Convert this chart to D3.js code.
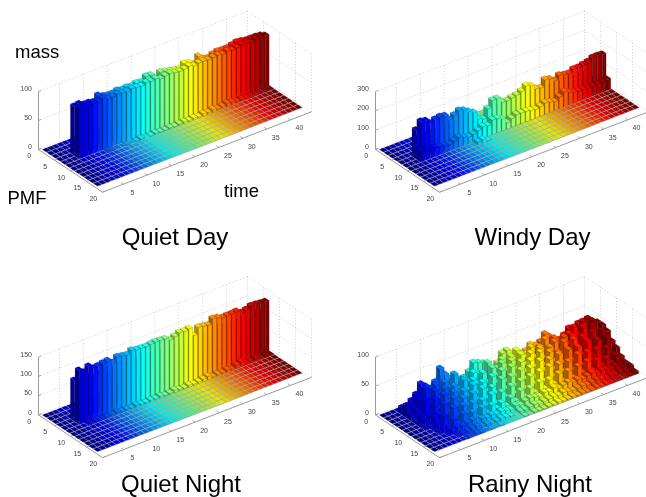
<!DOCTYPE html>
<html><head><meta charset="utf-8">
<script src="https://cdn.jsdelivr.net/npm/d3@7"></script>
<style>html,body{margin:0;padding:0;background:#fff;overflow:hidden}svg{display:block;filter:blur(.35px)}</style>
</head><body><svg id="c" width="646" height="497"></svg>
<script>
const timeTicks=[5,10,15,20,25,30,35,40];
const pmfTicks=[0,5,10,15,20];
const colCount=43, rowCount=12, firstCol=3;

const quietDayBack=[85,86,82,82,80,88,84,82,82,84,82,83,82,84,83,89,88,79,87,85,83,81,80,86,84,79,89,82,80,83,85,84,84,86,88,87,85,85,85,84];
const quietDayFront=[88,87,86,85,86,88,84,85,86,85,84,86,85,84,87,86,87,84,86,87,85,84,85,87,84,86,86,85,86,87,85,88,86,87,89,88,86,89,88,89];
const quietDayLow=[0,0,0,0,0,1,1,0,0,1,0,1,2,0,1,2,1,1,2,1,2,3,2,3,2,4,3,5,3,4,6,5,3,4,3,2,2,1,2,1];

const windyBack=[148,184,178,156,165,170,166,136,150,165,157,140,126,82,72,117,150,150,122,120,126,130,140,159,150,125,120,153,147,130,148,140,138,150,150,155,160,172,172,170];
const windyFront=[56,57,52,45,40,36,33,42,51,42,34,38,48,59,54,75,72,60,32,44,55,54,53,48,43,50,58,52,46,60,77,65,55,52,50,49,50,52,54,56];
const windyLow=[0,0,0,0,0,0,0,0,0,0,0,15,18,4,0,0,0,0,0,0,0,0,0,0,0,0,0,0,0,0,0,0,0,0,0,0,0,0,0,0];

const quietNightBack=[105,92,96,100,94,98,102,90,96,100,94,98,102,96,100,92,98,100,94,96,98,100,88,94,92,96,100,96,92,98,100,96,92,98,94,96,92,98,96,94];
const quietNightFront=[139,130,140,131,132,134,136,126,136,134,132,139,136,135,134,136,137,136,135,128,132,137,136,138,116,132,130,128,140,138,133,134,134,135,127,130,135,134,133,132];
const quietNightLow=[0,2,3,2,4,3,2,7,3,4,2,5,3,2,4,3,5,2,3,6,3,2,5,3,4,6,8,3,5,4,6,3,9,12,5,4,8,3,6,2];

const rainyRow1=[12,8,18,22,30,20,24,30,36,26,28,20,22,16,30,34,22,18,12,10,26,32,20,22,24,18,28,24,20,34,28,22,24,20,30,30,34,30,36,30];
const rainyRow2=[21,20,34,49,42,35,43,63,50,40,37,32,29,22,51,48,44,32,24,20,48,50,40,39,35,31,44,40,33,53,45,34,34,34,47,40,49,42,51,43];
const rainyRow3=[10,16,30,44,30,46,28,44,32,52,24,40,30,42,38,30,50,26,34,46,30,44,52,32,34,48,26,42,52,30,48,36,30,46,54,38,58,34,52,47];
const rainyRow4=[6,12,34,26,44,28,42,22,40,26,44,24,38,28,44,24,46,30,48,32,46,28,50,30,46,36,48,28,44,50,30,52,36,46,30,56,32,52,36,47];
const rainyRow5=[4,8,14,38,20,40,24,38,20,34,22,38,20,36,18,40,26,44,22,44,24,46,26,42,28,50,24,44,26,36,52,26,50,28,48,30,50,28,46,42];
const rainyRow6=[2,5,16,18,32,16,36,20,30,14,32,18,34,14,30,16,38,18,36,16,40,22,38,18,44,24,40,20,42,24,44,22,42,26,46,20,42,24,40,30];
const rainyRow7=[0,3,6,20,10,28,12,26,10,24,12,22,10,26,8,24,12,28,12,30,14,32,16,34,14,36,16,34,18,32,14,38,16,36,18,34,16,30,18,24];
const rainyRow8=[0,2,8,4,16,6,20,6,16,4,18,6,16,8,14,6,16,8,22,8,20,10,24,10,22,12,26,10,24,10,26,12,28,10,24,12,20,10,20,14];
const rainyRow9=[0,0,3,6,8,8,10,12,6,8,6,8,6,8,6,4,8,6,10,12,10,8,12,10,14,10,12,14,10,12,10,12,14,10,12,10,8,10,10,9];
const rainyRow10=[0,0,0,3,4,5,6,6,3,4,2,3,4,3,2,0,4,3,5,6,4,5,6,7,6,8,6,5,6,7,5,6,7,6,5,6,4,5,6,9];
const rainyRow11=[0,0,0,0,1,2,3,2,0,1,0,1,0,0,0,0,1,0,2,1,1,2,2,3,2,2,3,2,3,2,2,3,2,3,2,2,1,2,3,4];

const panels=[
 {title:"Quiet Day",tx:175,ty:245,ox:38.5,oy:149.5,zMax:100,zTicks:[0,50,100],rows:{3:quietDayBack,4:quietDayFront,5:quietDayLow}},
 {title:"Windy Day",tx:532.5,ty:245,ox:375.5,oy:149.5,zMax:300,zTicks:[0,100,200,300],rows:{4:windyBack,5:windyFront,6:windyLow}},
 {title:"Quiet Night",tx:181,ty:491.5,ox:38.5,oy:415,zMax:150,zTicks:[0,50,100,150],rows:{3:quietNightBack,4:quietNightFront,5:quietNightLow}},
 {title:"Rainy Night",tx:530,ty:491.5,ox:375.5,oy:415,zMax:100,zTicks:[0,50,100],rows:{1:rainyRow1,2:rainyRow2,3:rainyRow3,4:rainyRow4,5:rainyRow5,6:rainyRow6,7:rainyRow7,8:rainyRow8,9:rainyRow9,10:rainyRow10,11:rainyRow11}}
];
const sideLabels=[["mass",15,58],["PMF",7.5,204],["time",224,197]];

const tLo=0.6,tHi=44.4;
const tX=d3.scaleLinear([tLo,tHi],[0,209]), tY=d3.scaleLinear([tLo,tHi],[0,-80.4]);
const pX=d3.scaleLinear([0,20],[0,64]), pY=d3.scaleLinear([0,20],[0,42.7]);
const jet=d3.scaleLinear([0,.125,.375,.625,.875,1],["#00008f","#0000ff","#00ffff","#ffff00","#ff0000","#800000"]).interpolate(d3.interpolateRgb);
const svg=d3.select("#c");
const font="'Liberation Sans',Arial,sans-serif";
const rowP0=.4,rowStep=1.45,barT=.8,barP=.9;

function shade(c,k){const r=d3.rgb(c);return d3.rgb(r.r*k,r.g*k,r.b*k).formatRgb();}
panels.forEach(P=>{
 const g=svg.append("g");
 const zY=d3.scaleLinear([0,P.zMax],[0,-58]);
 const pr=(t,p,z)=>[P.ox+tX(t)+pX(p),P.oy+tY(t)+pY(p)+zY(z)];
 const line=(a,b,stroke,dash,w)=>g.append("line").attr("x1",a[0]).attr("y1",a[1]).attr("x2",b[0]).attr("y2",b[1]).attr("stroke",stroke).attr("stroke-width",w||.8).attr("stroke-dasharray",dash||null);
 const dot="1 2", gc="#c4c4c4";
 // walls
 P.zTicks.forEach(z=>{
  line(pr(tLo,0,z),pr(tHi,0,z),gc,dot);
  line(pr(tHi,0,z),pr(tHi,20,z),gc,dot);
 });
 timeTicks.forEach(t=>line(pr(t,0,0),pr(t,0,P.zMax),gc,dot));
 pmfTicks.slice(1).forEach(p=>line(pr(tHi,p,0),pr(tHi,p,P.zMax),gc,dot));
 line(pr(tHi,0,0),pr(tHi,0,P.zMax),gc,dot);
 // solid axes
 const ac="#999";
 line(pr(tLo,0,0),pr(tLo,0,P.zMax),ac,null,1);
 line(pr(tLo,0,0),pr(tLo,20,0),ac,null,1);
 line(pr(tLo,20,0),pr(tHi,20,0),ac,null,1);
 P.zTicks.forEach(z=>line(pr(tLo,0,z),pr(tLo+.6,0,z),ac,null,.8));
 pmfTicks.forEach(p=>line(pr(tLo,p,0),pr(tLo+.6,p,0),ac,null,.8));
 timeTicks.forEach(t=>line(pr(t,20,0),pr(t,19.2,0),ac,null,.8));
 const poly=(pts,fill,stroke,w)=>g.append("polygon").attr("points",pts.map(d=>d.join(",")).join(" ")).attr("fill",fill).attr("stroke",stroke).attr("stroke-width",w);
 // gray floor seen through the gaps between cells
 const fp1=rowP0+rowCount*rowStep, ft0=1.1, ft1=colCount+1.1;
 poly([pr(ft0,rowP0,0),pr(ft1,rowP0,0),pr(ft1,fp1,0),pr(ft0,fp1,0)],"#a8a8a8","none",0);
 // bars, back row to front row, far column to near column
 d3.range(rowCount).forEach(r=>{
  const vals=P.rows[r];
  d3.range(colCount-1,-1,-1).forEach(c=>{
   const z=vals&&c>=firstCol?vals[c-firstCol]:0;
   const col=jet(c/(colCount-1));
   const t0=c+1.1,t1=t0+barT,p0=rowP0+r*rowStep,p1=p0+rowStep*barP;
   if(z>0){
    const e="rgba(0,0,0,.45)";
    poly([pr(t0,p0,0),pr(t0,p1,0),pr(t0,p1,z),pr(t0,p0,z)],shade(col,.66),e,.3);
    poly([pr(t0,p1,0),pr(t1,p1,0),pr(t1,p1,z),pr(t0,p1,z)],col,e,.3);
    poly([pr(t0,p0,z),pr(t1,p0,z),pr(t1,p1,z),pr(t0,p1,z)],col,e,.3);
   } else {
    const a=t0+.02,b=t0+.9,u=p0+rowStep*.02,v=p0+rowStep*.86;
    poly([pr(a,u,0),pr(b,u,0),pr(b,v,0),pr(a,v,0)],shade(col,.9),"none",0);
   }
  });
 });
 // tick labels
 const lab=(x,y,s,a)=>g.append("text").attr("x",x).attr("y",y).attr("text-anchor",a||"middle").attr("font-family",font).attr("font-size",7).attr("fill","#444").text(s);
 P.zTicks.forEach(z=>{const q=pr(tLo,0,z);lab(q[0]-6.5,q[1]-.5,z,"end");});
 pmfTicks.forEach(p=>{const q=pr(tLo,p,0);lab(q[0]-9.2,q[1]+8.7,p);});
 timeTicks.forEach(t=>{const q=pr(t,20,0);lab(q[0]+9,q[1]+10.6,t);});
 g.append("text").attr("x",P.tx).attr("y",P.ty).attr("text-anchor","middle").attr("font-family",font).attr("font-size",24).attr("fill","#000").text(P.title);
});
sideLabels.forEach(d=>svg.append("text").attr("x",d[1]).attr("y",d[2]).attr("font-family",font).attr("font-size",18.5).attr("fill","#000").text(d[0]));
</script></body></html>
